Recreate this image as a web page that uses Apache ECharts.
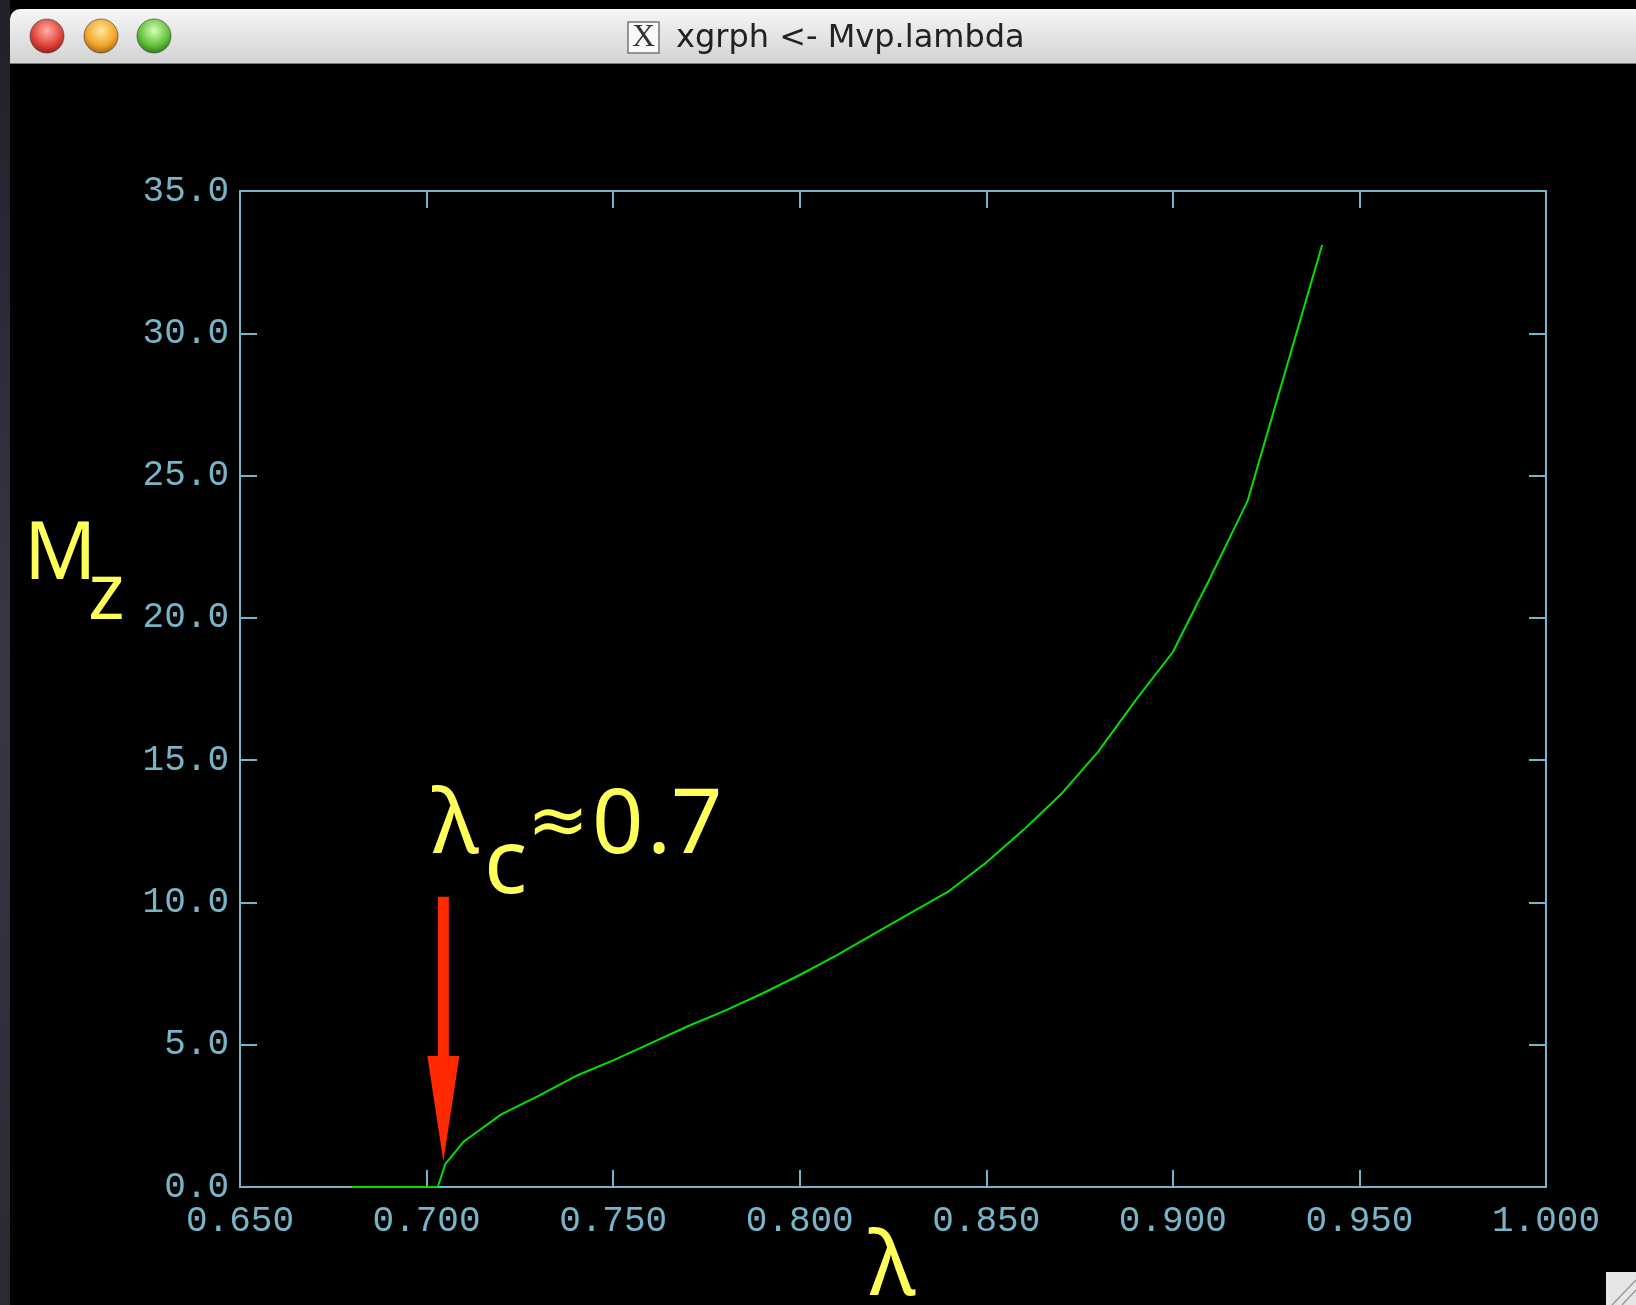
<!DOCTYPE html>
<html>
<head>
<meta charset="utf-8">
<script src="https://cdn.jsdelivr.net/npm/echarts@6/dist/echarts.min.js"></script>
<style>
html,body{margin:0;padding:0;background:#000;}
#c{width:1636px;height:1305px;}
</style>
</head>
<body>
<div id="c"></div>
<script>
// ---- data ----
const lambdaVals = [0.68, 0.69, 0.70, 0.703, 0.705, 0.71, 0.72, 0.73, 0.74, 0.75, 0.76, 0.77, 0.78, 0.79, 0.80, 0.81, 0.82, 0.83, 0.84, 0.85, 0.86, 0.87, 0.88, 0.89, 0.90, 0.91, 0.92, 0.93, 0.94];
const mzVals     = [0, 0, 0, 0, 0.8, 1.6, 2.55, 3.2, 3.9, 4.45, 5.05, 5.65, 6.2, 6.8, 7.45, 8.15, 8.9, 9.65, 10.4, 11.4, 12.55, 13.8, 15.3, 17.1, 18.8, 21.4, 24.1, 28.6, 33.1];
const xTicks = {min: 0.65, max: 1.0, step: 0.05};
const yTicks = {min: 0, max: 35, step: 5};
// arrow annotation (data coordinates)
const arrowLambda = 0.7045;
const arrowTopMz = 10.2;
const arrowHeadBaseMz = 4.6;
const arrowTipMz = 0.9;
const windowTitle = 'xgrph <- Mvp.lambda';

const axisColor = '#78b4c8';
const chart = echarts.init(document.getElementById('c'), null, {renderer: 'canvas'});

const seriesData = lambdaVals.map((x, i) => [x, mzVals[i]]);
const tickFont = {fontFamily: 'Liberation Mono', fontSize: 36, color: axisColor};

function frameAxis(extra) {
  return Object.assign({
    type: 'value',
    axisLine: {show: true, onZero: false, lineStyle: {color: axisColor, width: 2}},
    axisTick: {show: true, inside: true, length: 17, lineStyle: {color: axisColor, width: 2}},
    splitLine: {show: false}
  }, extra);
}

const option = {
  backgroundColor: '#000',
  animation: false,
  grid: {left: 240, right: 90, top: 191, bottom: 118},
  xAxis: [
    frameAxis({position: 'bottom', min: xTicks.min, max: xTicks.max, interval: xTicks.step,
      axisLabel: Object.assign({margin: 16, formatter: v => v.toFixed(3)}, tickFont)}),
    frameAxis({position: 'top', min: xTicks.min, max: xTicks.max, interval: xTicks.step,
      axisLabel: {show: false}})
  ],
  yAxis: [
    frameAxis({position: 'left', min: yTicks.min, max: yTicks.max, interval: yTicks.step,
      axisLabel: Object.assign({margin: 11, formatter: v => v.toFixed(1)}, tickFont)}),
    frameAxis({position: 'right', min: yTicks.min, max: yTicks.max, interval: yTicks.step,
      axisLabel: {show: false}})
  ],
  series: [{
    type: 'line',
    data: seriesData,
    xAxisIndex: 0, yAxisIndex: 0,
    showSymbol: false,
    symbol: 'none',
    lineStyle: {color: '#00e000', width: 2},
    z: 5
  }]
};
chart.setOption(option);

// arrow positioned through the axes' scales
const pTop  = chart.convertToPixel({xAxisIndex: 0, yAxisIndex: 0}, [arrowLambda, arrowTopMz]);
const pBase = chart.convertToPixel({xAxisIndex: 0, yAxisIndex: 0}, [arrowLambda, arrowHeadBaseMz]);
const pTip  = chart.convertToPixel({xAxisIndex: 0, yAxisIndex: 0}, [arrowLambda, arrowTipMz]);

const yellow = '#ffff5a';
const annFont = 'Noto Sans';

const light = (cx, c1, c2, c3) => ({
  type: 'circle', shape: {cx: cx, cy: 36, r: 17},
  style: {fill: new echarts.graphic.RadialGradient(0.5, 0.35, 0.7, [
    {offset: 0, color: c1}, {offset: 0.6, color: c2}, {offset: 1, color: c3}]),
    stroke: 'rgba(60,60,60,0.6)', lineWidth: 1}
});
const ann = (x, y, t, size) => ({type: 'text', z: 10,
  style: {x: x, y: y, text: t, fontFamily: annFont, fontSize: size || 90, fill: yellow,
          align: 'left', verticalAlign: 'bottom'}});

const graphics = [
  // desktop strip on the left
  {type: 'rect', shape: {x: 0, y: 0, width: 10, height: 1305},
   style: {fill: new echarts.graphic.LinearGradient(0, 0, 0, 1, [
     {offset: 0, color: '#221f2a'}, {offset: 0.5, color: '#3a3645'}, {offset: 1, color: '#2c2934'}])}},
  // title bar
  {type: 'rect', shape: {x: 10, y: 9, width: 1640, height: 55, r: [10, 0, 0, 0]},
   style: {fill: new echarts.graphic.LinearGradient(0, 0, 0, 1, [
     {offset: 0, color: '#f6f6f6'}, {offset: 1, color: '#d2d2d2'}])}},
  {type: 'rect', shape: {x: 10, y: 63, width: 1640, height: 1}, style: {fill: '#7a7a7a'}},
  light(47, '#ffb0a8', '#e0443a', '#8c1410'),
  light(101, '#ffe8a0', '#f2a52a', '#9a5a06'),
  light(154, '#d8ffb8', '#62c23a', '#2a6a10'),
  // X icon
  {type: 'rect', shape: {x: 628, y: 22, width: 31, height: 31},
   style: {fill: '#fafafa', stroke: '#777', lineWidth: 1.5}},
  {type: 'text', style: {x: 643.5, y: 38, text: 'X', fontFamily: 'Liberation Serif', fontSize: 32,
   fill: '#333', align: 'center', verticalAlign: 'middle'}},
  {type: 'text', style: {x: 676, y: 39, text: windowTitle, fontFamily: 'DejaVu Sans', fontSize: 32,
   fill: '#222', align: 'left', verticalAlign: 'middle'}},
  // resize grip
  {type: 'rect', shape: {x: 1606, y: 1272, width: 30, height: 33}, style: {fill: '#e6e6e6'}},
  {type: 'line', shape: {x1: 1612, y1: 1305, x2: 1636, y2: 1280}, style: {stroke: '#9a9a9a', lineWidth: 1.5}},
  {type: 'line', shape: {x1: 1622, y1: 1305, x2: 1636, y2: 1290}, style: {stroke: '#9a9a9a', lineWidth: 1.5}},
  // red arrow
  {type: 'rect', shape: {x: pTop[0] - 5.5, y: pTop[1], width: 11, height: pBase[1] - pTop[1] + 1},
   style: {fill: '#ff2a00'}, z: 10},
  {type: 'polygon', shape: {points: [[pBase[0] - 16, pBase[1]], [pBase[0] + 16, pBase[1]], [pTip[0], pTip[1]]]},
   style: {fill: '#ff2a00'}, z: 10},
  // annotation λc≈0.7
  ann(432, 872, 'λ'),
  ann(484, 912, 'c'),
  {type: 'text', z: 10, style: {x: 558, y: 826, text: '≈', fontFamily: 'DejaVu Sans', fontSize: 74,
   fill: yellow, align: 'center', verticalAlign: 'middle'}},
  ann(592, 872, '0'),
  ann(647, 872, '.'),
  ann(671, 872, '7'),
  // y label M_z
  ann(24, 596, 'M', 80),
  ann(88, 636, 'z', 78),
  // x label λ
  {type: 'text', z: 10, style: {x: 892, y: 1314, text: 'λ', fontFamily: annFont, fontSize: 90, fill: yellow,
   align: 'center', verticalAlign: 'bottom'}}
];
chart.setOption({graphic: graphics});
</script>
</body>
</html>
